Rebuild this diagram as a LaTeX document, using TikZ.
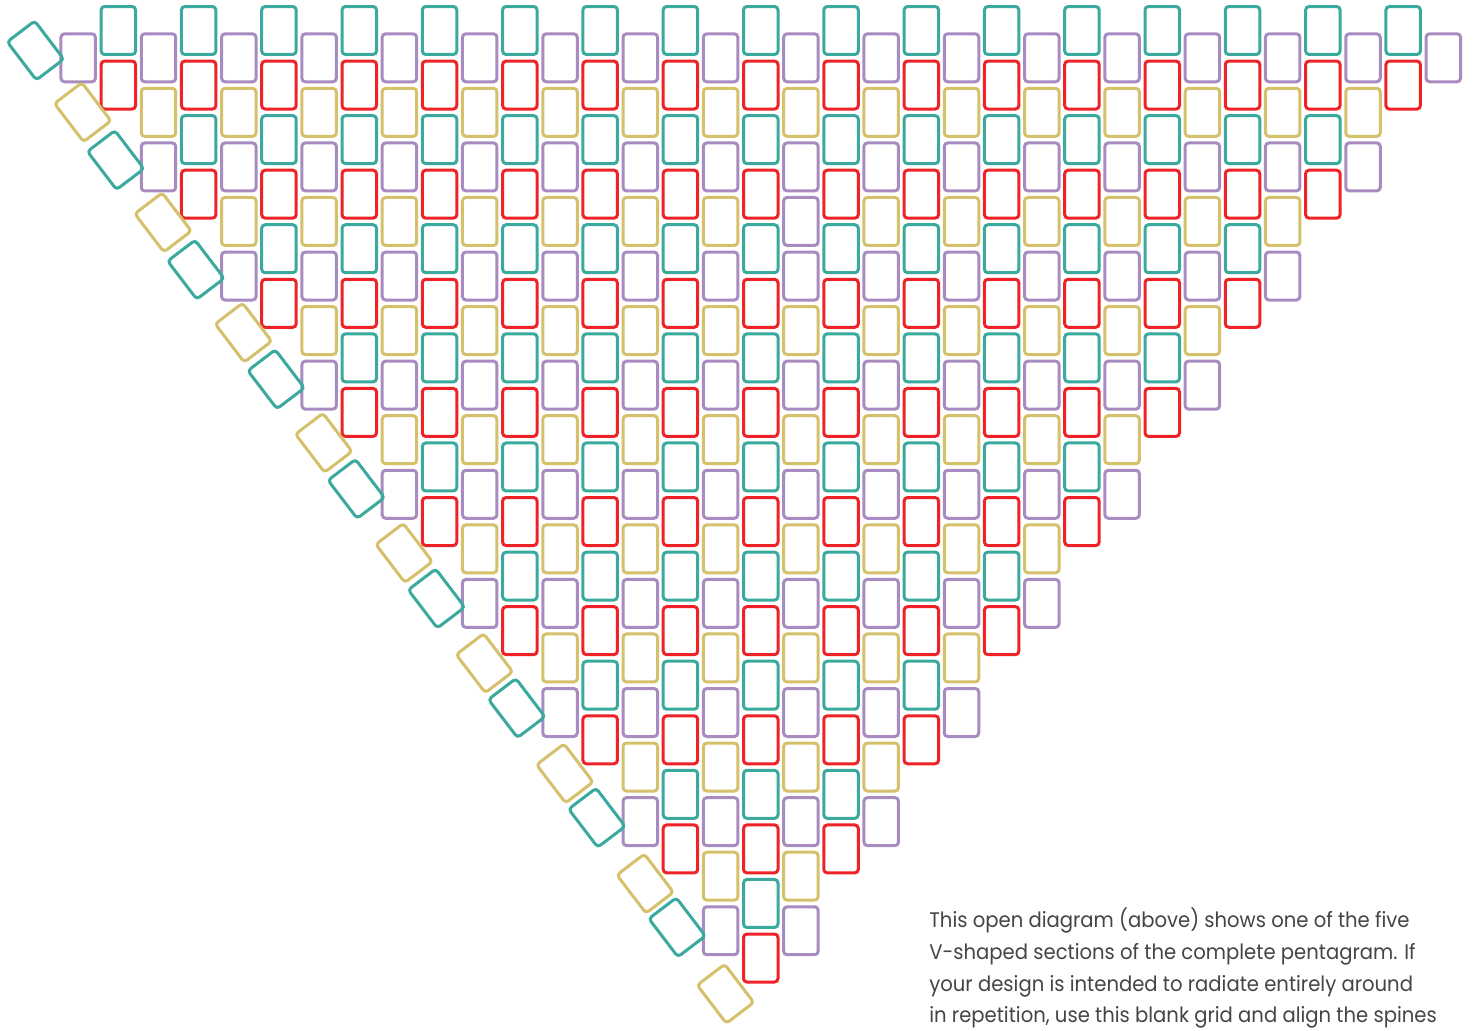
\documentclass[tikz,border=0pt]{standalone}
\usepackage{fontspec}
\setmainfont{Poppins}[FakeStretch=0.93]
\definecolor{jade}{HTML}{3AAA9E}
\definecolor{scarlet}{HTML}{EE2227}
\definecolor{lilac}{HTML}{A88BC0}
\definecolor{ochre}{HTML}{D5C06B}
\definecolor{ink}{HTML}{454545}
\colorlet{tone0}{jade}
\colorlet{tone1}{lilac}
\colorlet{tone2}{scarlet}
\colorlet{tone3}{ochre}
\tikzset{
  bead/.style={draw,line width=0.06cm,rounded corners=0.07cm,minimum width=0.69cm,
    minimum height=0.96cm,inner sep=0pt,outer sep=0pt},
  spinebead/.style={bead,rotate=37.3},
  note/.style={font=\fontsize{12}{18.2}\selectfont,text=ink,align=left,inner sep=0pt}
}

\begin{document}
\begin{tikzpicture}[x=0.02cm,y=-0.02cm]
  \fill[white] (0,0) rectangle (1474,1031);
  \useasboundingbox (0,0) rectangle (1474,1031);

  \foreach \c in {0,...,34}{
    \pgfmathtruncatemacro\kmax{min(\c,34-\c)}
    \foreach \k in {0,...,\kmax}{
      \pgfmathtruncatemacro\r{2*\k+mod(\c+1,2)}
      \pgfmathtruncatemacro\t{(\c==18 && \k==3) ? 1 : mod(\r,4)}
      \node[bead,draw=tone\t] (b\c-\k) at ({78.2+40.15*\c},{30.5+27.28*\r}) {};
    }
  }

  \foreach \m in {0,...,8}{
    \node[spinebead,draw=jade] (s\m) at ({35.5+80.2*\m},{50.5+109.6*\m}) {};
    \node[spinebead,draw=ochre] (g\m) at ({82.7+80.35*\m},{112.2+110.2*\m}) {};
  }

  \node[note,anchor=north west] (caption) at (929,907)
    {This open diagram (above) shows one of the five\\
     V-shaped sections of the complete pentagram. If\\
     your design is intended to radiate entirely around\\
     in repetition, use this blank grid and align the spines};
\end{tikzpicture}
\end{document}
